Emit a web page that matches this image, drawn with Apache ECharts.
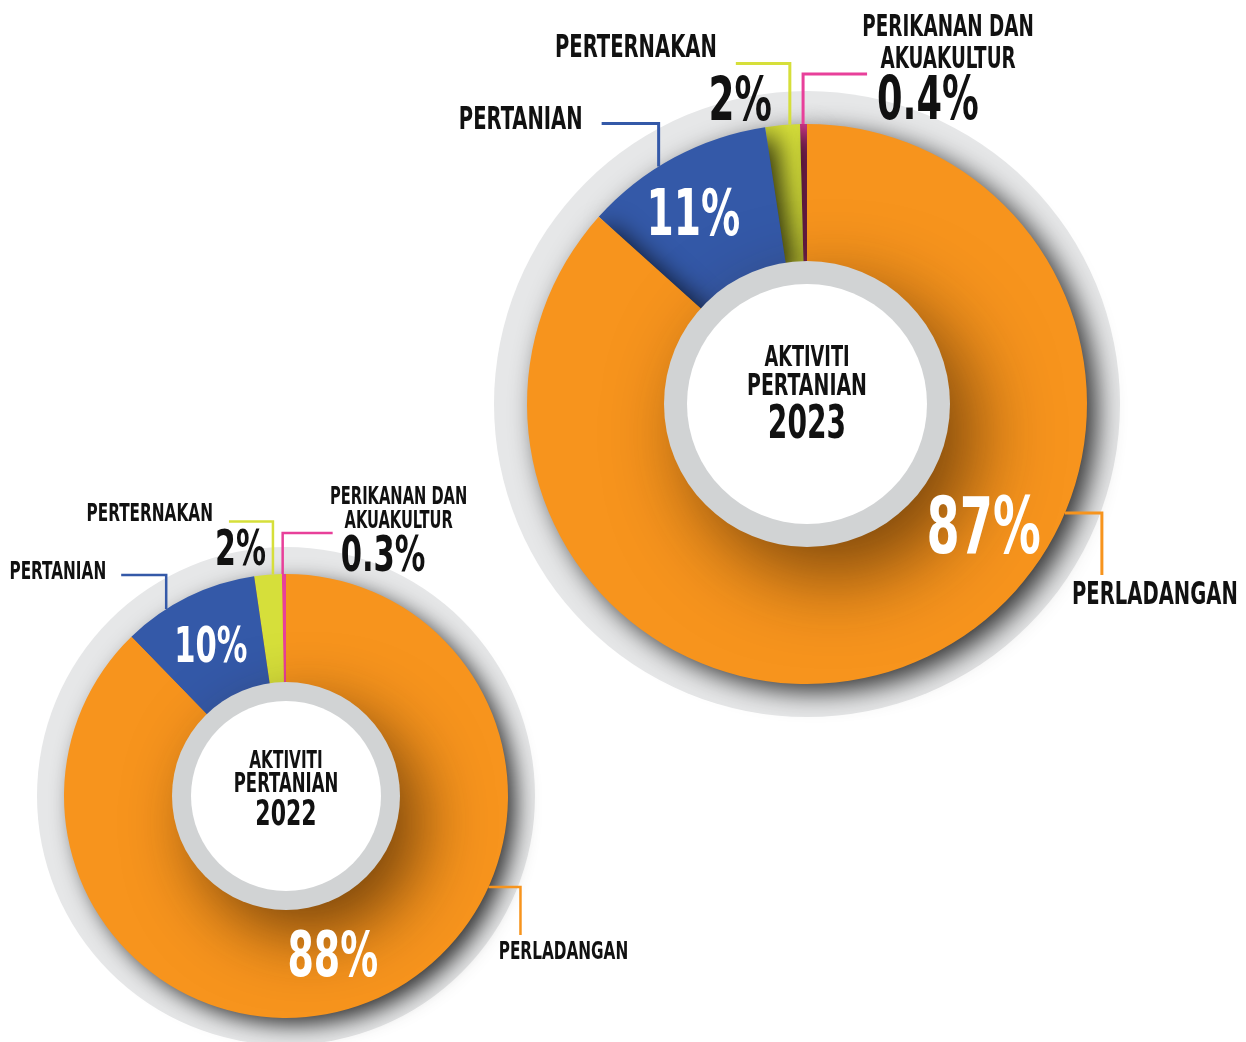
<!DOCTYPE html>
<html>
<head>
<meta charset="utf-8">
<title>Aktiviti Pertanian 2022 - 2023</title>
<script src="https://cdn.jsdelivr.net/npm/echarts@6/dist/echarts.min.js"></script>
<style>
  html, body { margin: 0; padding: 0; background: #ffffff; }
  #chart { width: 1246px; height: 1042px; }
</style>
</head>
<body>
<div id="chart"></div>
<script>
// ---- data ----
const categories = ['PERLADANGAN', 'PERTANIAN', 'PERTERNAKAN', 'PERIKANAN DAN\nAKUAKULTUR'];
const hubTitle = ['AKTIVITI', 'PERTANIAN'];
const years = ['2023', '2022'];
const share2023 = [87, 11, 2, 0.4];
const share2022 = [88, 10, 2, 0.3];

// ---- styling ----
const sliceColors = ['#f7941d', '#3459a8', '#d6df3a', '#e8409a'];
const FONT = "'DejaVu Sans Condensed', 'DejaVu Sans', sans-serif";
const SQUEEZE = 0.68;   // horizontal squeeze giving the tall, narrow lettering
const DIGIT_DROP = 0.075; // big numerals sit a little lower than the em-box middle

// Geometry of each doughnut and placement of its callouts.
// names[i]: leader line leaving slice i at fraction `frac` of its arc,
//   path 'ul' = up then left, 'ur' = up then right, 'rd' = right then down;
//   (lx, ly) = label anchor relative to the line end.
// pcts[i]: percentage label, either inside the ring (frac, r) or
//   relative to the leader line corner (cx, cy).
const donuts = [
  {
    year: years[0], values: share2023,
    center: [807, 404], ring: 313, outer: 280, hub: 143, face: 120,
    lineWidth: 3, sliceShadow: true,
    hubText: [{ dy: -46, size: 29 }, { dy: -17, size: 31 }, { dy: 22, size: 46 }],
    shadow: { blur: 26, x: 10, y: 8 }, hubShadow: { blur: 80, x: 26, y: 30 },
    names: [
      { frac: 0.362, path: 'rd', w: 37, h: 62, lx: 53, ly: 21, align: 'center', size: 32 },
      { frac: 0.407, path: 'ul', w: 57, h: 43, lx: -19, ly: -3, align: 'right', size: 32 },
      { frac: 0.71,  path: 'ul', w: 54, h: 61, lx: -19, ly: -15, align: 'right', size: 32 },
      { frac: 0.44,  path: 'ur', w: 64, h: 50, lx: 81, ly: -30, align: 'center', size: 30, lh: 32 }
    ],
    pcts: [
      { frac: 0.40, r: 215, size: 78, color: '#ffffff', align: 'center' },
      { frac: 0.437, r: 222, size: 64, color: '#ffffff', align: 'center' },
      { cx: -18, cy: 36, size: 61, color: '#111111', align: 'right' },
      { cx: 74, cy: 25, size: 60, color: '#111111', align: 'left' }
    ]
  },
  {
    year: years[1], values: share2022,
    center: [286, 796], ring: 249, outer: 222, hub: 114, face: 95,
    lineWidth: 2.5, sliceShadow: false,
    hubText: [{ dy: -35, size: 25 }, { dy: -11, size: 27 }, { dy: 20, size: 36 }],
    shadow: { blur: 22, x: 9, y: 8 }, hubShadow: { blur: 66, x: 22, y: 26 },
    names: [
      { frac: 0.3616, path: 'rd', w: 32, h: 48, lx: 43, ly: 17, align: 'center', size: 25 },
      { frac: 0.32,   path: 'ul', w: 45, h: 34, lx: -15, ly: -3, align: 'right', size: 25 },
      { frac: 0.68,   path: 'ul', w: 44, h: 53, lx: -16, ly: -7, align: 'right', size: 25 },
      { frac: 0.2,    path: 'ur', w: 50, h: 41, lx: 66, ly: -23, align: 'center', size: 24, lh: 24 }
    ],
    pcts: [
      { frac: 0.518, r: 166, size: 62, color: '#ffffff', align: 'center' },
      { frac: 0.49,  r: 168, size: 50, color: '#ffffff', align: 'center' },
      { cx: -7, cy: 27, size: 49, color: '#111111', align: 'right' },
      { cx: 58, cy: 21, size: 50, color: '#111111', align: 'left' }
    ]
  }
];

// Point on the ring: `frac` along slice n's arc, at radius r (clockwise from 12 o'clock).
function polar(cfg, n, frac, r) {
  const vals = cfg.values;
  const total = vals.reduce((a, b) => a + b, 0);
  let acc = 0;
  for (let k = 0; k < n; k++) acc += vals[k];
  const a = (acc + frac * vals[n]) / total * Math.PI * 2;
  return [cfg.center[0] + r * Math.sin(a), cfg.center[1] - r * Math.cos(a)];
}

// Leader line for slice n: [start, corner, end].
function leader(cfg, n) {
  const spec = cfg.names[n];
  const s = polar(cfg, n, spec.frac, cfg.outer);
  let corner, end;
  if (spec.path === 'ul') {
    corner = [s[0], s[1] - spec.h]; end = [corner[0] - spec.w, corner[1]];
  } else if (spec.path === 'ur') {
    corner = [s[0], s[1] - spec.h]; end = [corner[0] + spec.w, corner[1]];
  } else {
    corner = [s[0] + spec.w, s[1]]; end = [corner[0], corner[1] + spec.h];
  }
  return [s, corner, end];
}

function label(x, y, text, size, color, align, lineHeight) {
  return {
    type: 'text', x: x, y: y, scaleX: SQUEEZE, scaleY: 1,
    style: {
      text: text, fontFamily: FONT, fontWeight: 'bold', fontSize: size,
      lineHeight: lineHeight || Math.round(size * 1.05),
      fill: color, align: align, verticalAlign: 'middle'
    }
  };
}

const plain = { silent: true, animation: false, emphasis: { disabled: true }, tooltip: { show: false } };

function buildSeries(cfg) {
  const list = [];
  const discData = [{ value: 1, name: '' }];
  const dropShadow = {
    shadowColor: 'rgba(0,0,0,0.78)', shadowBlur: cfg.shadow.blur,
    shadowOffsetX: cfg.shadow.x, shadowOffsetY: cfg.shadow.y
  };

  // light grey backing disc
  list.push(Object.assign({
    type: 'pie', center: cfg.center, radius: [0, cfg.ring], z: 1,
    label: { show: false }, labelLine: { show: false },
    itemStyle: { color: '#e6e7e8' },
    data: discData
  }, plain));

  // when the slices don't carry their own shadows, one disc under the ring casts it
  if (!cfg.sliceShadow) {
    list.push(Object.assign({
      type: 'pie', center: cfg.center, radius: [0, cfg.outer - 1], z: 1,
      label: { show: false }, labelLine: { show: false },
      itemStyle: Object.assign({ color: '#f7941d' }, dropShadow),
      data: discData
    }, plain));
  }

  // the doughnut itself; drawn counter-clockwise from the smallest slice so that
  // each slice's shadow falls on its clockwise neighbour
  const order = cfg.values.map((v, i) => i).reverse();
  list.push(Object.assign({
    type: 'pie', center: cfg.center, radius: [cfg.hub - 4, cfg.outer], z: 2,
    clockwise: false, startAngle: 90,
    label: { show: false }, labelLine: { show: false },
    itemStyle: cfg.sliceShadow ? dropShadow : {},
    data: order.map(i => ({ value: cfg.values[i], name: categories[i], itemStyle: { color: sliceColors[i] } }))
  }, plain));

  // grey hub ring casting a soft shadow over the doughnut
  list.push(Object.assign({
    type: 'pie', center: cfg.center, radius: [0, cfg.hub], z: 3,
    label: { show: false }, labelLine: { show: false },
    itemStyle: {
      color: '#d1d3d4', shadowColor: 'rgba(45,22,0,0.62)', shadowBlur: cfg.hubShadow.blur,
      shadowOffsetX: cfg.hubShadow.x, shadowOffsetY: cfg.hubShadow.y
    },
    data: discData
  }, plain));

  // white face
  list.push(Object.assign({
    type: 'pie', center: cfg.center, radius: [0, cfg.face], z: 4,
    label: { show: false }, labelLine: { show: false },
    itemStyle: { color: '#ffffff' },
    data: discData
  }, plain));

  // title in the middle
  list.push(Object.assign({
    type: 'custom', coordinateSystem: 'none', z: 10,
    data: [[0]],
    renderItem: function () {
      const lines = [hubTitle[0], hubTitle[1], cfg.year];
      return {
        type: 'group',
        children: lines.map((t, k) =>
          label(cfg.center[0], cfg.center[1] + cfg.hubText[k].dy, t, cfg.hubText[k].size, '#111111', 'center'))
      };
    }
  }, plain));

  // callouts: elbow leader lines, category names and percentages
  list.push(Object.assign({
    type: 'custom', coordinateSystem: 'none', z: 11,
    data: cfg.values.map((v, i) => [i, v]),
    renderItem: function (params, api) {
      const n = params.dataIndex;
      const value = api.value(1);
      const spec = cfg.names[n];
      const ps = cfg.pcts[n];
      const pts = leader(cfg, n);
      const end = pts[2];
      let pp;
      if (ps.r != null) {
        pp = polar(cfg, n, ps.frac, ps.r);
      } else {
        pp = [pts[1][0] + ps.cx, pts[1][1] + ps.cy];
      }
      return {
        type: 'group',
        children: [
          {
            type: 'polyline', shape: { points: pts },
            style: { stroke: sliceColors[n], lineWidth: cfg.lineWidth, fill: null, lineJoin: 'miter' }
          },
          label(end[0] + spec.lx, end[1] + spec.ly, categories[n], spec.size, '#111111', spec.align, spec.lh),
          label(pp[0], pp[1] + ps.size * DIGIT_DROP, value + '%', ps.size, ps.color, ps.align)
        ]
      };
    }
  }, plain));

  return list;
}

const chart = echarts.init(document.getElementById('chart'), null, { renderer: 'canvas' });
chart.setOption({
  backgroundColor: '#ffffff',
  animation: false,
  tooltip: { show: false },
  series: donuts.flatMap(buildSeries)
});
</script>
</body>
</html>
